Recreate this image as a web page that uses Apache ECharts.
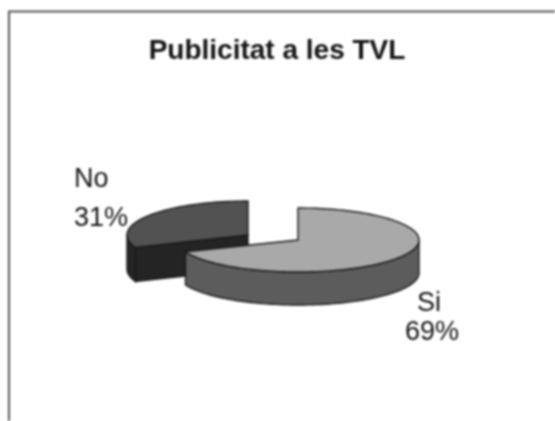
<!DOCTYPE html>
<html><head><meta charset="utf-8">
<style>html,body{margin:0;padding:0;background:#fff}#c{width:555px;height:421px;filter:blur(0.8px)}</style>
<script src="https://cdn.jsdelivr.net/npm/echarts@6/dist/echarts.min.js"></script>
</head><body><div id="c"></div>
<script>
const categories = ['Si', 'No'];
const values = [69, 31];
const titleText = 'Publicitat a les TVL';
// layout of each exploded slice: centre, radii, extrusion, colours, label anchors
const sliceLayout = [
  {cx: 298, cy: 240, rx: 121, ry: 32, depth: 33, top: '#a9a9a9', wall: '#5c5c5c', cut: '#3a3a3a', nameX: 417, nameY: 304, pctX: 405, pctY: 333},
  {cx: 248, cy: 235, rx: 121, ry: 34, depth: 34, top: '#525252', wall: '#242424', cut: '#242424', nameX: 74, nameY: 180, pctX: 74, pctY: 219}
];
const total = values.reduce((a, b) => a + b, 0);
function pt(l, deg, dz) {
  const r = deg * Math.PI / 180;
  return [l.cx + l.rx * Math.sin(r), l.cy - l.ry * Math.cos(r) + (dz || 0)];
}
function arc(l, a0, a1, dz) {
  const out = [], n = Math.max(2, Math.ceil(Math.abs(a1 - a0) / 2));
  for (let i = 0; i <= n; i++) out.push(pt(l, a0 + (a1 - a0) * i / n, dz));
  return out;
}
const lineStyle = {stroke: '#1a1a1a', lineWidth: 1.4};
const labelFont = '27px "Liberation Sans", Arial, sans-serif';
function renderItem(params, api) {
  const i = api.value(0), val = api.value(1);
  const l = sliceLayout[i];
  let before = 0;
  for (let k = 0; k < i; k++) before += values[k];
  const a0 = before / total * 360, a1 = (before + val) / total * 360;
  const kids = [];
  const apex = [l.cx, l.cy], apexB = [l.cx, l.cy + l.depth];
  const cutFace = (a) => [apex, pt(l, a), pt(l, a, l.depth), apexB];
  if (a0 > 180) kids.push({type: 'polygon', shape: {points: cutFace(a0)}, style: {fill: l.cut, ...lineStyle}});
  const w0 = Math.max(a0, 90), w1 = Math.min(a1, 270);
  if (w1 > w0) {
    kids.push({type: 'polygon', shape: {points: arc(l, w0, w1).concat(arc(l, w1, w0, l.depth))}, style: {fill: l.wall, ...lineStyle}});
  }
  kids.push({type: 'polygon', shape: {points: [apex].concat(arc(l, a0, a1))}, style: {fill: l.top, ...lineStyle}});
  const pct = Math.round(val / total * 100) + '%';
  kids.push({type: 'text', style: {x: l.nameX, y: l.nameY, text: categories[i], font: labelFont, fill: '#141414', align: 'left', verticalAlign: 'middle'}});
  kids.push({type: 'text', style: {x: l.pctX, y: l.pctY, text: pct, font: labelFont, fill: '#141414', align: 'left', verticalAlign: 'middle'}});
  return {type: 'group', children: kids};
}
const drawOrder = [1, 0];
const chart = echarts.init(document.getElementById('c'), null, {renderer: 'canvas'});
chart.setOption({
  animation: false,
  backgroundColor: '#fff',
  title: {text: titleText, left: 272, top: 32, textAlign: 'center',
    textStyle: {fontFamily: '"Liberation Sans", Arial, sans-serif', fontWeight: 'bold', fontSize: 28, color: '#141414'}},
  graphic: [
    {type: 'polyline', silent: true, shape: {points: [[9, 421], [9, 11.5], [555, 11.5]]}, style: {stroke: '#555', lineWidth: 2, fill: null}}
  ],
  series: [{
    type: 'custom', coordinateSystem: 'none', renderItem,
    data: drawOrder.map(i => [i, values[i]])
  }]
});
</script></body></html>
